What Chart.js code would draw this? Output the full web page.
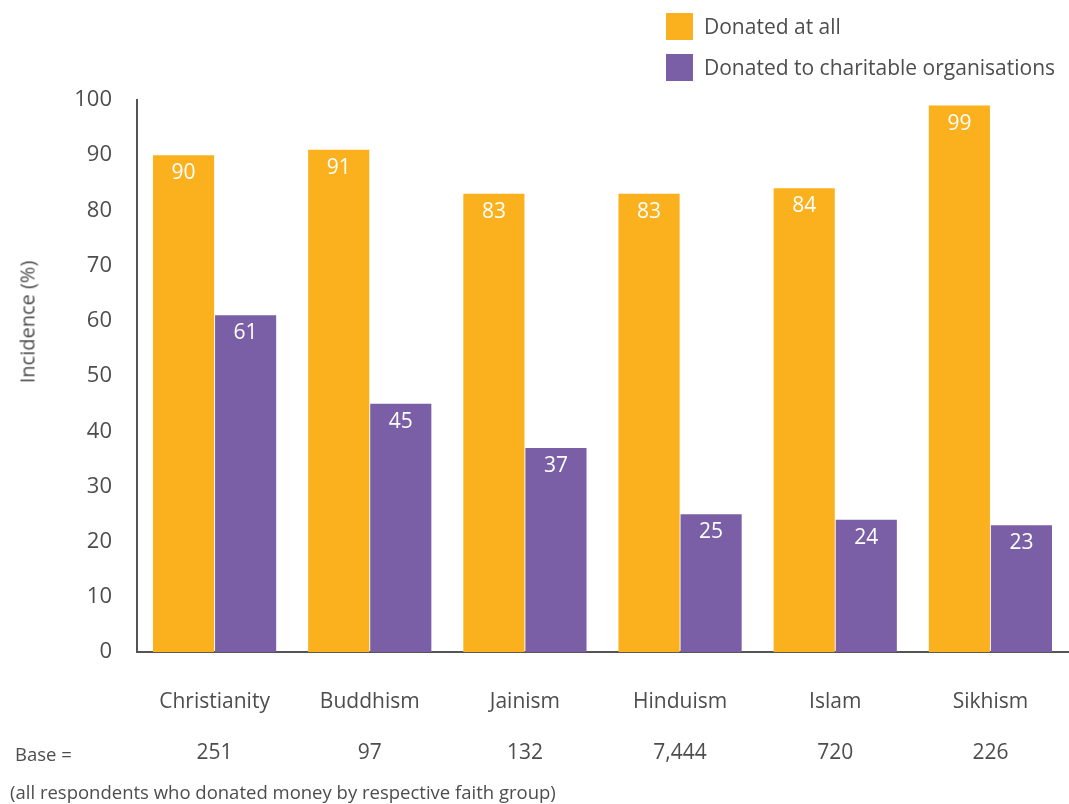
<!DOCTYPE html>
<html>
<head>
<meta charset="utf-8">
<script src="https://cdn.jsdelivr.net/npm/chart.js@4"></script>
<style>
  body { margin: 0; background: #fff; font-family: "Open Sans", sans-serif; color: #4d4d4d; }
  #wrap { position: relative; width: 1069px; height: 804px; }
  .leg { position: absolute; left: 666px; display: flex; align-items: center; font-size: 21px; }
  .leg span.box { width: 27px; height: 27px; margin-right: 11px; display: inline-block; }
  .note { position: absolute; font-size: 18.5px; }
  #ytitle { position: absolute; left: 27px; top: 322px; font-size: 20px; white-space: nowrap;
            transform: translate(-50%, -50%) rotate(-90deg); }
</style>
</head>
<body>
<div id="wrap">
  <canvas id="myChart" width="1069" height="804"></canvas>
  <div class="leg" style="top:12px"><span class="box" style="background:#FBB01E"></span>Donated at all</div>
  <div class="leg" style="top:53px"><span class="box" style="background:#7A5FA6"></span>Donated to charitable organisations</div>
  <div id="ytitle">Incidence (%)</div>
  <div class="note" style="left:15px; top:741px">Base =</div>
  <div class="note" style="left:10px; top:779px">(all respondents who donated money by respective faith group)</div>
</div>
<script>
// Datos
const categorias = ['Christianity', 'Buddhism', 'Jainism', 'Hinduism', 'Islam', 'Sikhism'];
const bases = ['251', '97', '132', '7,444', '720', '226'];
const donadoTotal = [90, 91, 83, 83, 84, 99];
const donadoOrganizaciones = [61, 45, 37, 25, 24, 23];

// Etiquetas blancas dentro de las barras
const etiquetasBarras = {
  id: 'etiquetasBarras',
  afterDatasetsDraw(chart) {
    const ctx = chart.ctx;
    ctx.save();
    ctx.fillStyle = '#ffffff';
    ctx.font = '21px "Open Sans"';
    ctx.textAlign = 'center';
    ctx.textBaseline = 'middle';
    chart.data.datasets.forEach((ds, i) => {
      chart.getDatasetMeta(i).data.forEach((bar, j) => {
        ctx.fillText(ds.data[j], bar.x, bar.y + 18);
      });
    });
    ctx.restore();
  }
};

let ctx = document.getElementById('myChart').getContext('2d');
let myChart = new Chart(ctx, {
  type: 'bar',
  data: {
    labels: categorias.map((c, i) => [c, bases[i]]),
    datasets: [{
      label: 'Donated at all',
      data: donadoTotal,
      backgroundColor: '#FBB01E',
      barPercentage: 0.985,
      categoryPercentage: 0.8
    }, {
      label: 'Donated to charitable organisations',
      data: donadoOrganizaciones,
      backgroundColor: '#7A5FA6',
      barPercentage: 0.985,
      categoryPercentage: 0.8
    }]
  },
  options: {
    responsive: false,
    animation: false,
    layout: { padding: { top: 100, right: 1, bottom: 1, left: 0 } },
    plugins: { legend: { display: false }, tooltip: { enabled: false } },
    scales: {
      x: {
        grid: { display: false, drawTicks: false },
        border: { color: '#555', width: 2 },
        ticks: { color: '#4d4d4d', padding: 25, font: { family: 'Open Sans', size: 21, lineHeight: 2.4 } }
      },
      y: {
        min: 0, max: 100,
        grid: { display: false, drawTicks: false },
        border: { color: '#555', width: 2 },
        ticks: { stepSize: 10, color: '#4d4d4d', padding: 25, font: { family: 'Open Sans', size: 22 } },
        afterFit(scale) { scale.width = 137; }
      }
    }
  },
  plugins: [etiquetasBarras]
});
</script>
</body>
</html>
